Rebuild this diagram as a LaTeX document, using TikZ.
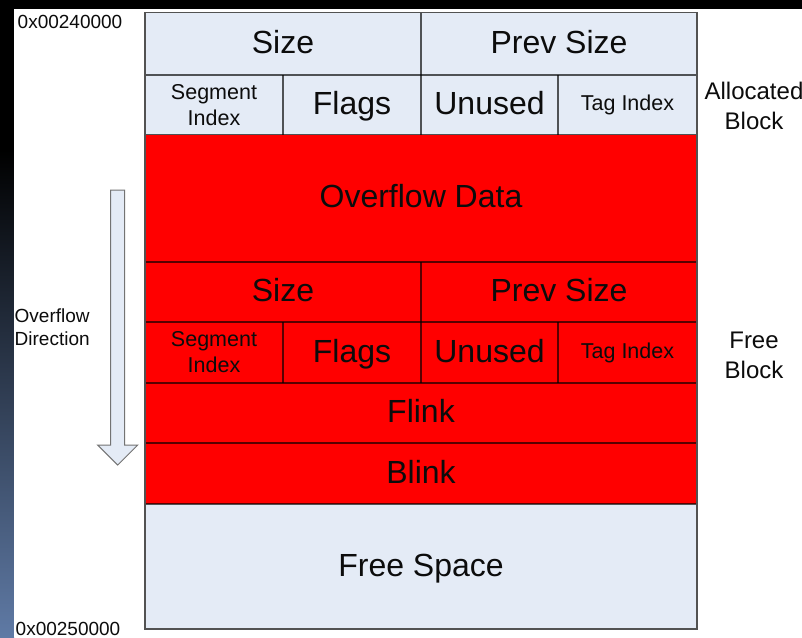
\documentclass[tikz,border=0pt]{standalone}
\usepackage{fontspec}
\setmainfont{Liberation Sans}
\definecolor{paleblue}{RGB}{228,235,246}
\definecolor{heapred}{RGB}{255,0,0}
\definecolor{slateblue}{RGB}{95,122,165}
\definecolor{inkgray}{RGB}{12,12,12}
\begin{document}
\begin{tikzpicture}[x=1pt,y=-1pt,
  cell/.style={inner sep=0pt, outer sep=0pt, text=inkgray},
  pale/.style={cell, fill=paleblue},
  hot/.style={cell, fill=heapred},
  big/.style={font=\fontsize{32}{38}\selectfont, text height=23pt, text depth=4pt},
  small/.style={font=\fontsize{21.5}{26}\selectfont, align=center},
  side/.style={font=\fontsize{24}{30}\selectfont, align=center, text=inkgray},
  addr/.style={font=\fontsize{19}{23}\selectfont, inner sep=0pt, text=inkgray},
  gridline/.style={draw=black, draw opacity=0.65, line width=1.2pt},
  frame/.style={draw=black!68, line width=1.6pt},
]
% page background: dark edges round a white sheet
\fill[black] (0,0) rectangle (802,637);
\shade[top color=black, bottom color=slateblue] (0,150) rectangle (14,637);
\fill[white] (14,9) rectangle (802,637);
\useasboundingbox (0,0) rectangle (802,637);

% allocated block header
\node[pale, big, minimum width=276pt, minimum height=62.5pt] (size)   at (283,43.75) {Size};
\node[pale, big, minimum width=276pt, minimum height=62.5pt] (prev)   at (559,43.75) {Prev Size};
\node[pale, small, minimum width=138pt, minimum height=59.5pt] (seg)  at (214,104.75) {Segment\\Index};
\node[pale, big, minimum width=138pt, minimum height=59.5pt] (flags)  at (352,104.75) {Flags};
\node[pale, big, minimum width=137pt, minimum height=59.5pt] (unused) at (489.5,104.75) {Unused};
\node[pale, small, minimum width=139pt, minimum height=59.5pt] (tag)  at (627.5,104.75) {Tag Index};

% overflowed region
\node[hot, big, minimum width=552pt, minimum height=127.5pt] (ovf) at (421,198.25) {Overflow Data};

% free block header
\node[hot, big, minimum width=276pt, minimum height=60pt] (size2)   at (283,292) {Size};
\node[hot, big, minimum width=276pt, minimum height=60pt] (prev2)   at (559,292) {Prev Size};
\node[hot, small, minimum width=138pt, minimum height=61pt] (seg2)  at (214,352.5) {Segment\\Index};
\node[hot, big, minimum width=138pt, minimum height=61pt] (flags2)  at (352,352.5) {Flags};
\node[hot, big, minimum width=137pt, minimum height=61pt] (unused2) at (489.5,352.5) {Unused};
\node[hot, small, minimum width=139pt, minimum height=61pt] (tag2)  at (627.5,352.5) {Tag Index};
\node[hot, big, minimum width=552pt, minimum height=60pt] (flink) at (421,413) {Flink};
\node[hot, big, minimum width=552pt, minimum height=61pt] (blink) at (421,473.5) {Blink};

% untouched remainder
\node[pale, big, minimum width=552pt, minimum height=125pt] (free) at (421,566.5) {Free Space};

% cell borders
\draw[gridline] (size.south west) -- (prev.south east);
\draw[gridline] (size.north east) -- (size.south east);
\draw[gridline] (seg.north east) -- (seg.south east);
\draw[gridline] (flags.north east) -- (flags.south east);
\draw[gridline] (unused.north east) -- (unused.south east);
\draw[gridline] (seg.south west) -- (tag.south east);
\draw[gridline] (ovf.south west) -- (ovf.south east);
\draw[gridline] (size2.north east) -- (size2.south east);
\draw[gridline] (size2.south west) -- (prev2.south east);
\draw[gridline] (seg2.north east) -- (seg2.south east);
\draw[gridline] (flags2.north east) -- (flags2.south east);
\draw[gridline] (unused2.north east) -- (unused2.south east);
\draw[gridline] (seg2.south west) -- (tag2.south east);
\draw[gridline] (flink.south west) -- (flink.south east);
\draw[gridline] (blink.south west) -- (blink.south east);
\draw[frame] (size.north west) rectangle (free.south east);

% side labels
\node[side] (alloc) at (754,106) {Allocated\\Block};
\node[side] (freeblk) at (754,355) {Free\\Block};
\node[addr, anchor=base west] (top) at (17.5,28) {0x00240000};
\node[addr, anchor=base west] (bottom) at (15.5,635) {0x00250000};
\node[addr, anchor=west, align=left] (dir) at (14.5,327) {Overflow\\Direction};

% overflow direction arrow
\draw[fill=paleblue, draw=black!55, line width=1pt, line join=miter]
  (110.7,190) -- (124.7,190) -- (124.7,445) -- (137.7,445) -- (117.7,465)
  -- (97.7,445) -- (110.7,445) -- cycle;
\end{tikzpicture}
\end{document}
